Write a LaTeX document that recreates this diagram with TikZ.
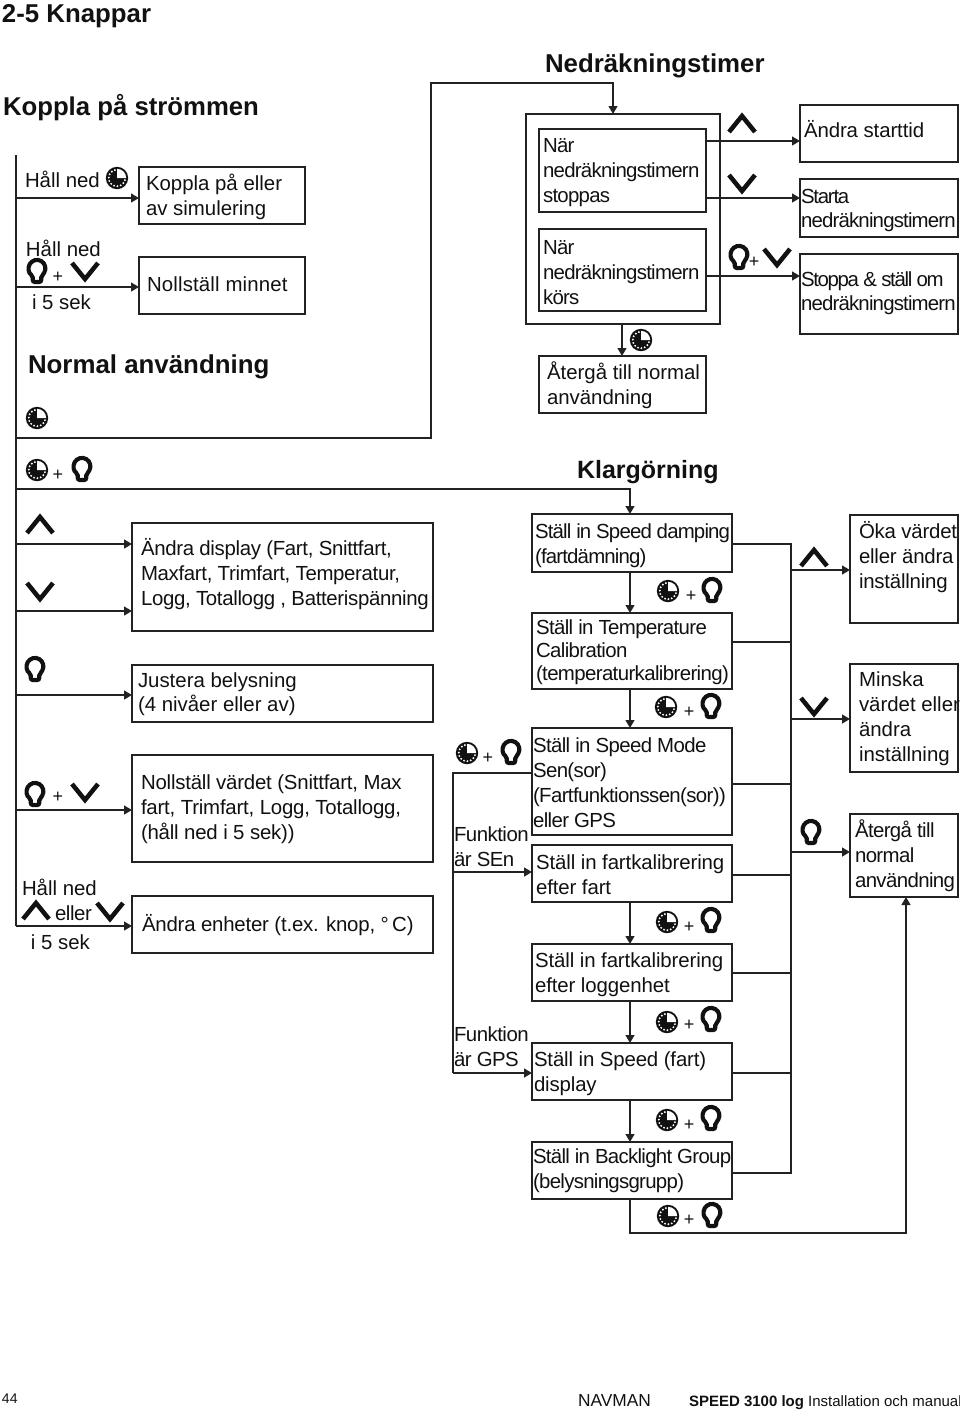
\documentclass[tikz,border=0pt]{standalone}
\usepackage{fontspec}
\setmainfont{Liberation Sans}
\usetikzlibrary{arrows.meta}
\definecolor{ink}{HTML}{111111}
\definecolor{wire}{HTML}{222222}
\tikzset{
  boxst/.style={draw=wire,line width=1.5pt,rectangle,anchor=north west,inner sep=0pt,outer sep=0pt},
  txtst/.style={anchor=base west,inner sep=0pt,outer sep=0pt,text=ink},
  plusst/.style={anchor=center,inner sep=0pt,outer sep=0pt,text=ink,font=\fontsize{13.5pt}{14pt}\selectfont},
  ln/.style={draw=wire,line width=1.4pt,line join=miter},
  arr/.style={ln,-{Triangle[length=6pt,width=6.6pt]}},
  pics/clockicon/.style={code={
    \begin{scope}[x=0.75pt,y=0.75pt]
      \fill[ink] (0,0) circle (11.2);
      \fill[white] (0,0) -- (9.2,0) arc (0:90:9.2) -- cycle;
      \foreach \a in {105,129,153,177,201,225,249,273,297,321,345}
        \fill[white] (\a:8.2) circle (1.05);
    \end{scope}}},
  pics/lampicon/.style={code={
    \begin{scope}[x=0.75pt,y=0.75pt]
      \draw[ink,fill=white,line width=3.1pt,rounded corners=1.5pt]
        (-4.2,-3.6) arc (240:-60:8.4) -- (4.2,-10) -- (-4.2,-10) -- cycle;
    \end{scope}}},
  pics/upicon/.style={code={
    \begin{scope}[x=0.75pt,y=0.75pt]
      \draw[ink,line width=3.4pt,miter limit=10] (-13,-9) -- (0,7) -- (13,-9);
    \end{scope}}},
  pics/downicon/.style={code={
    \begin{scope}[x=0.75pt,y=0.75pt]
      \draw[ink,line width=3.4pt,miter limit=10] (-13,9) -- (0,-7) -- (13,9);
    \end{scope}}},
}
% box: name, x1,y1,x2,y2 in reference pixels
\newcommand\bx[5]{\node[boxst,minimum width={(#4-#2)*0.75pt},minimum height={(#5-#3)*0.75pt}] (#1) at (#2,#3) {};}
% body text: [line step pt] name, x, first baseline, letterspace, lines
\newcommand\txtn[6][18.75]{\node[txtst] (#2) at (#3,#4) {\fontsize{15.3pt}{#1pt}\selectfont\addfontfeature{LetterSpace=#5}\begin{tabular}[t]{@{}l@{}}#6\end{tabular}};}
\newcommand\ltsp[2]{{\addfontfeature{LetterSpace=#1}#2}}
% heading: name, x, baseline, size pt, letterspace, text
\newcommand\headn[6]{\node[txtst] (#1) at (#2,#3) {\fontsize{#4pt}{22pt}\selectfont\bfseries\addfontfeature{LetterSpace=#5}#6};}
\newcommand\plusn[3]{\node[plusst] (#1) at (#2,#3) {+};}
\newcommand\clk[2]{\pic at (#1,#2) {clockicon};}
\newcommand\lmp[2]{\pic at (#1,#2) {lampicon};}
\newcommand\upi[2]{\pic at (#1,#2) {upicon};}
\newcommand\dni[2]{\pic at (#1,#2) {downicon};}
\begin{document}
\begin{tikzpicture}[x=0.75pt,y=-0.75pt]
\useasboundingbox (0,0) rectangle (960,1414);
% headings
\headn{h1}{2}{22}{19.35}{0}{2-5 Knappar}
\headn{h2}{3}{115}{19.3}{0}{Koppla på strömmen}
\headn{h3}{28}{373}{19.4}{0}{Normal användning}
\headn{h4}{545}{72}{19.37}{0}{Nedräkningstimer}
\headn{h5}{577}{478}{18.75}{0}{Klargörning}
% boxes
\bx{kop}{139}{167}{305}{224}
\bx{nol}{139}{257}{305}{314}
\bx{outer}{526}{114}{720}{324}
\bx{stp}{539}{129}{706}{212}
\bx{krs}{539}{229}{706}{311}
\bx{ret}{539}{356}{706}{413}
\bx{and}{800}{105}{958}{162}
\bx{sta}{800}{179}{958}{237}
\bx{sto}{800}{254}{958}{334}
\bx{dsp}{132}{523}{433}{631}
\bx{bel}{132}{665}{433}{722}
\bx{nvd}{132}{755}{433}{862}
\bx{enh}{132}{896}{433}{953}
\bx{s1}{532}{514}{732}{572}
\bx{s2}{532}{613}{732}{689}
\bx{s3}{532}{728}{732}{835}
\bx{s4}{532}{845}{732}{902}
\bx{s5}{532}{944}{732}{1001}
\bx{s6}{532}{1043}{732}{1100}
\bx{s7}{532}{1142}{732}{1199}
\bx{oka}{850}{515}{958}{623}
\bx{min}{850}{664}{958}{772}
\bx{atg}{850}{814}{958}{897}
% texts
\txtn{t1}{25}{187}{0}{Håll ned}
\txtn{t2}{26}{256}{0}{Håll ned}
\txtn{t3}{32}{309}{0}{i 5 sek}
\txtn{t4}{146}{190}{0}{Koppla på eller\\av simulering}
\txtn{t5}{147}{291}{0.8}{Nollställ minnet}
\txtn{t6}{543}{152}{-3.5}{När\\nedräkningstimern\\stoppas}
\txtn{t7}{543}{254}{-3.5}{När\\nedräkningstimern\\körs}
\txtn{t8}{547}{379}{0}{Återgå till normal\\användning}
\txtn{t9}{804}{137}{-0.5}{Ändra starttid}
\txtn[18.4]{t10}{801}{203}{-4}{\ltsp{-6}{Starta}\\nedräkningstimern}
\txtn[18]{t11}{801}{286}{-4}{\ltsp{-6.5}{Stoppa \& ställ om}\\nedräkningstimern}
\txtn{t12}{141}{555}{-1.6}{Ändra display (Fart, Snittfart,\\Maxfart, Trimfart, Temperatur,\\Logg, Totallogg , Batterispänning}
\txtn[18]{t13}{138}{687}{0}{Justera belysning\\(4 nivåer eller av)}
\txtn{t14}{141}{789}{-1}{Nollställ värdet (Snittfart, Max\\fart, Trimfart, Logg, Totallogg,\\(håll ned i 5 sek))}
\txtn{t15}{142}{931}{-1}{Ändra enheter (t.ex. knop, °\,C)}
\txtn{t16}{22}{895}{0}{Håll ned}
\txtn{t17}{55}{920}{-2}{eller}
\txtn{t18}{31}{949}{0}{i 5 sek}
\txtn{t19}{535}{538}{-4}{Ställ in Speed damping\\(fartdämning)}
\txtn[17.25]{t20}{536}{634}{-3}{Ställ in Temperature\\Calibration\\(temperaturkalibrering)}
\txtn{t21}{533}{752}{-3}{Ställ in Speed Mode\\Sen(sor)\\(Fartfunktionssen(sor))\\eller GPS}
\txtn{t22}{454}{841}{-2.5}{Funktion\\är SEn}
\txtn{t23}{536}{869}{-0.5}{Ställ in fartkalibrering\\efter fart}
\txtn{t24}{535}{967}{-0.5}{Ställ in fartkalibrering\\efter loggenhet}
\txtn{t25}{454}{1041}{-2.5}{Funktion\\är GPS}
\txtn{t26}{534}{1066}{-0.7}{Ställ in Speed (fart)\\display}
\txtn{t27}{533}{1163}{-3.4}{Ställ in Backlight Group\\(belysningsgrupp)}
\txtn{t28}{859}{538}{-1}{Öka värdet\\eller ändra\\inställning}
\txtn{t29}{859}{686}{0}{Minska\\värdet eller\\ändra\\inställning}
\txtn{t30}{855}{837}{-3}{Återgå till\\normal\\användning}
% footer
\node[txtst,font=\fontsize{10.5pt}{12pt}\selectfont] (f1) at (2,1403) {44};
\node[txtst,font=\fontsize{13pt}{14pt}\selectfont] (f2) at (578,1406) {NAVMAN};
\node[txtst,font=\fontsize{11.25pt}{13pt}\selectfont] (f3) at (689,1406) {\textbf{SPEED 3100 log} Installation och manual};
% named points of the wiring
\coordinate (tt) at (16,155);
\coordinate (tb) at (16,926);
\coordinate (a1) at (16,198);
\coordinate (a2) at (16,287);
\coordinate (a3) at (16,438);
\coordinate (a4) at (16,489);
\coordinate (a5) at (16,544);
\coordinate (a6) at (16,611);
\coordinate (a7) at (16,695);
\coordinate (a8) at (16,810);
\coordinate (n1) at (431,438);
\coordinate (n2) at (431,83);
\coordinate (n3) at (613,83);
\coordinate (k1) at (630,489);
\coordinate (d) at (630,0);
\coordinate (dn) at (622,0);
\coordinate (rt) at (791,544);
\coordinate (r2) at (791,642);
\coordinate (r3) at (791,784);
\coordinate (r4) at (791,875);
\coordinate (r5) at (791,973);
\coordinate (r6) at (791,1073);
\coordinate (rb) at (791,1173);
\coordinate (ra1) at (791,570);
\coordinate (ra2) at (791,719);
\coordinate (ra3) at (791,852);
\coordinate (lt) at (453,773);
\coordinate (lm) at (453,872);
\coordinate (lb) at (453,1073);
\coordinate (e1) at (630,1233);
\coordinate (e2) at (906,1233);
\coordinate (y1) at (706,141);
\coordinate (y2) at (706,198);
\coordinate (y3) at (706,276);
% connectors: left trunk
\draw[ln] (tt) -- (tb);
\draw[arr] (a1) -- (a1 -| kop.west);
\draw[arr] (a2) -- (a2 -| nol.west);
\draw[arr] (a5) -- (a5 -| dsp.west);
\draw[arr] (a6) -- (a6 -| dsp.west);
\draw[arr] (a7) -- (a7 -| bel.west);
\draw[arr] (a8) -- (a8 -| nvd.west);
\draw[arr] (tb) -- (tb -| enh.west);
\draw[arr] (a3) -- (n1) -- (n2) -- (n3) -- (n3 |- outer.north);
\draw[arr] (a4) -- (k1) -- (k1 |- s1.north);
% countdown
\draw[arr] (y1) -- (y1 -| and.west);
\draw[arr] (y2) -- (y2 -| sta.west);
\draw[arr] (y3) -- (y3 -| sto.west);
\draw[arr] (outer.south -| dn) -- (ret.north -| dn);
% klargorning chain
\draw[arr] (s1.south -| d) -- (s2.north -| d);
\draw[arr] (s2.south -| d) -- (s3.north -| d);
\draw[arr] (s4.south -| d) -- (s5.north -| d);
\draw[arr] (s5.south -| d) -- (s6.north -| d);
\draw[arr] (s6.south -| d) -- (s7.north -| d);
\draw[arr] (s7.south -| d) -- (e1) -- (e2) -- (e2 |- atg.south);
% branch
\draw[ln] (lt -| s3.west) -- (lt) -- (lb);
\draw[arr] (lm) -- (lm -| s4.west);
\draw[arr] (lb) -- (lb -| s6.west);
% right trunk
\draw[ln] (rt -| s1.east) -- (rt) -- (rb) -- (rb -| s7.east);
\draw[ln] (r2 -| s2.east) -- (r2);
\draw[ln] (r3 -| s3.east) -- (r3);
\draw[ln] (r4 -| s4.east) -- (r4);
\draw[ln] (r5 -| s5.east) -- (r5);
\draw[ln] (r6 -| s6.east) -- (r6);
\draw[arr] (ra1) -- (ra1 -| oka.west);
\draw[arr] (ra2) -- (ra2 -| min.west);
\draw[arr] (ra3) -- (ra3 -| atg.west);
% icons top left
\clk{117}{178}
\lmp{37}{272}\plusn{p1}{58}{277}\dni{85}{272}
\clk{37}{418}
\clk{37}{470}\plusn{p2}{58}{475}\lmp{82}{470}
% icons lower left
\upi{40}{524}
\dni{40}{592}
\lmp{35}{670}
\lmp{35}{795}\plusn{p3}{58}{797}\dni{85}{793}
\upi{36}{910}
\dni{110}{912}
% icons countdown
\upi{742}{123}
\dni{742}{184}
\lmp{739}{258}\plusn{p4}{754}{262}\dni{777}{258}
\clk{641}{340}
% icons klargorning
\clk{668}{591}\plusn{p5}{691}{596}\lmp{712}{591}
\clk{666}{707}\plusn{p6}{689}{712}\lmp{711}{707}
\clk{467}{753}\plusn{p7}{488}{758}\lmp{511}{753}
\clk{667}{922}\plusn{p8}{689}{927}\lmp{711}{921}
\clk{667}{1022}\plusn{p9}{689}{1025}\lmp{711}{1020}
\clk{667}{1120}\plusn{p10}{689}{1125}\lmp{711}{1119}
\clk{668}{1216}\plusn{p11}{689}{1220}\lmp{712}{1216}
% icons right
\upi{814}{557}
\dni{814}{707}
\lmp{811}{833}
\end{tikzpicture}
\end{document}
